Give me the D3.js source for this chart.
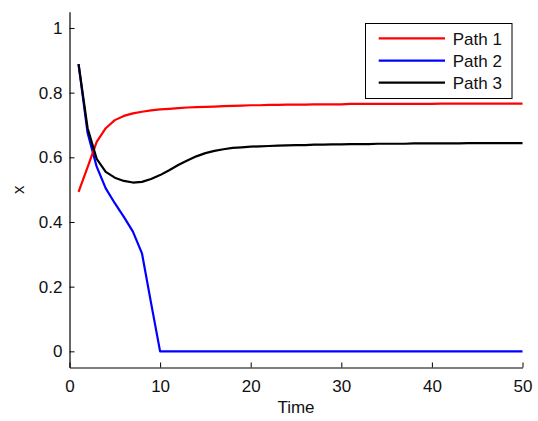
<!DOCTYPE html>
<html>
<head>
<meta charset="utf-8">
<script src="https://cdn.jsdelivr.net/npm/d3@7"></script>
<style>
  html, body { margin: 0; padding: 0; background: #fff; }
  svg { display: block; font-family: "Liberation Sans", Arial, Helvetica, sans-serif; }
</style>
</head>
<body>
<svg id="chart" width="538" height="421"></svg>
<script>
const time = [1,2,3,4,5,6,7,8,9,10,11,12,13,14,15,16,17,18,19,20,21,22,23,24,25,26,27,28,29,30,31,32,33,34,35,36,37,38,39,40,41,42,43,44,45,46,47,48,49,50];
const path1 = [0.493,0.570,0.648,0.690,0.715,0.728,0.736,0.741,0.745,0.748,0.750,0.752,0.754,0.755,0.756,0.757,0.758,0.759,0.760,0.761,0.761,0.762,0.762,0.763,0.763,0.763,0.764,0.764,0.764,0.764,0.765,0.765,0.765,0.765,0.765,0.765,0.765,0.765,0.765,0.765,0.766,0.766,0.766,0.766,0.766,0.766,0.766,0.766,0.766,0.766];
const path2 = [0.888,0.675,0.571,0.504,0.458,0.416,0.370,0.303,0.150,0,0,0,0,0,0,0,0,0,0,0,0,0,0,0,0,0,0,0,0,0,0,0,0,0,0,0,0,0,0,0,0,0,0,0,0,0,0,0,0,0];
const path3 = [0.888,0.690,0.595,0.555,0.537,0.527,0.522,0.524,0.533,0.545,0.560,0.576,0.590,0.603,0.613,0.620,0.625,0.629,0.631,0.633,0.634,0.635,0.636,0.637,0.638,0.638,0.639,0.639,0.640,0.640,0.641,0.641,0.641,0.642,0.642,0.642,0.642,0.643,0.643,0.643,0.643,0.643,0.643,0.644,0.644,0.644,0.644,0.644,0.644,0.644];
const seriesNames = ["Path 1", "Path 2", "Path 3"];
const seriesColors = ["#ff0000", "#0000ff", "#000000"];
const xTicks = [0,10,20,30,40,50];
const yTicks = [0,0.2,0.4,0.6,0.8,1];
const xLabel = "Time";
const yLabel = "x";

const svg = d3.select("#chart");
const x = d3.scaleLinear().domain([0, 50]).range([69.5, 522.5]);
const y = d3.scaleLinear().domain([-0.05, 1.05]).range([367.5, 11.8]);

const fs = 17;

// axes
const xAxis = d3.axisBottom(x).tickValues(xTicks).tickFormat(d3.format("d"))
  .tickSizeInner(-5).tickSizeOuter(0).tickPadding(12.5);
const gx = svg.append("g").attr("transform", `translate(0,${y(-0.05)})`).call(xAxis);

const yAxis = d3.axisLeft(y).tickValues(yTicks).tickFormat(d => d === 0 || d === 1 ? String(d) : d3.format(".1f")(d))
  .tickSizeInner(-5).tickSizeOuter(0).tickPadding(7);
const gy = svg.append("g").attr("transform", `translate(${x(0)},0)`).call(yAxis);

[gx, gy].forEach(g => {
  g.selectAll("path.domain").attr("stroke", "#000").attr("stroke-width", 1.2);
  g.selectAll(".tick line").attr("stroke", "#000").attr("stroke-width", 1);
  g.selectAll(".tick text").attr("font-size", fs).attr("fill", "#111")
    .attr("font-family", '"Liberation Sans", Arial, sans-serif');
});

// axis labels
svg.append("text").attr("x", (x(0) + x(50)) / 2).attr("y", 413.3)
  .attr("text-anchor", "middle").attr("font-size", fs).attr("fill", "#111").text(xLabel);
svg.append("text").attr("transform", `translate(23.5,${(y(-0.05) + y(1.05)) / 2}) rotate(-90)`)
  .attr("text-anchor", "middle").attr("font-size", fs).attr("fill", "#111").text(yLabel);

// lines
const allSeries = [path1, path2, path3];
const line = d3.line().x((d, i) => x(time[i])).y(d => y(d));
// draw order: red, black(ish) ... use blue, red, black so black on top like reference
[1, 0, 2].forEach(k => {
  svg.append("path").datum(allSeries[k])
    .attr("fill", "none").attr("stroke", seriesColors[k]).attr("stroke-width", 2.2)
    .attr("stroke-linejoin", "round").attr("d", line);
});

// legend
const lg = svg.append("g");
lg.append("rect").attr("x", 365.5).attr("y", 23.5).attr("width", 146.5).attr("height", 75)
  .attr("fill", "#fff").attr("stroke", "#000").attr("stroke-width", 1);
const legendY = [38.3, 60.7, 82.7];
seriesNames.forEach((name, i) => {
  lg.append("line").attr("x1", 378.7).attr("x2", 445).attr("y1", legendY[i]).attr("y2", legendY[i])
    .attr("stroke", seriesColors[i]).attr("stroke-width", 2.2);
  lg.append("text").attr("x", 452.7).attr("y", legendY[i]).attr("dy", "0.38em")
    .attr("font-size", fs).attr("fill", "#111").text(name);
});
</script>
</body>
</html>
